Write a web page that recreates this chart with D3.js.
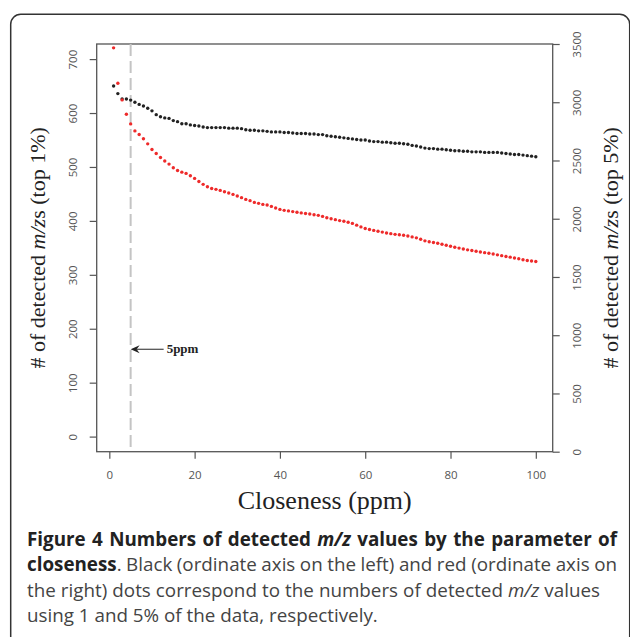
<!DOCTYPE html>
<html lang="en">
<head>
  <meta charset="UTF-8">
  <title>Figure 4 - detected m/z values by closeness</title>
  <style>
    body { margin: 0; background: #fff; }
    svg { display: block; }
    .tick text { font-family: 'Open Sans', sans-serif; font-size: 11.5px; fill: #555; }
    .tick line { stroke: #555; stroke-width: 1.2; }
    .serif { font-family: 'Liberation Serif', 'Times New Roman', serif; fill: #222; }
    .cap { font-family: 'Open Sans', sans-serif; font-size: 17px; fill: #444; }
  </style>
</head>
<body>
  <div id="chart"></div>
  <script src="https://d3js.org/d3.v7.min.js"></script>
  <script>
    // closeness (ppm), 1..100
    const closeness = [
      1,2,3,4,5,6,7,8,9,10,11,12,13,14,15,16,17,18,19,20,
      21,22,23,24,25,26,27,28,29,30,31,32,33,34,35,36,37,38,39,40,
      41,42,43,44,45,46,47,48,49,50,51,52,53,54,55,56,57,58,59,60,
      61,62,63,64,65,66,67,68,69,70,71,72,73,74,75,76,77,78,79,80,
      81,82,83,84,85,86,87,88,89,90,91,92,93,94,95,96,97,98,99,100
    ];
    // black dots, left axis (top 1%)
    const top1 = [
      650,636,626,626,624,620,616,613,609,604,597,593,591,590,586,584,580,580,578,577,
      576,574,573,573,573,573,573,572,572,572,571,569,568,568,567,567,566,565,565,565,
      564,564,563,562,562,562,561,561,560,560,558,557,556,555,554,553,552,551,550,550,
      548,547,547,546,546,545,544,544,543,542,540,539,537,535,534,534,533,533,532,531,
      530,530,529,529,528,528,528,527,527,527,527,526,525,524,523,523,522,521,520,519
    ];
    // red dots, right axis (top 5%)
    const top5 = [
      3467,3163,3020,2897,2814,2754,2723,2686,2643,2594,2560,2526,2495,2469,2437,2414,2400,2389,2369,2346,
      2320,2295,2275,2260,2252,2243,2232,2221,2209,2195,2181,2166,2155,2140,2132,2123,2118,2106,2092,2080,
      2072,2067,2061,2055,2050,2045,2040,2034,2029,2020,2008,2000,1992,1984,1978,1970,1960,1945,1930,1916,
      1908,1900,1893,1885,1878,1872,1866,1862,1858,1852,1844,1836,1824,1810,1803,1796,1790,1781,1772,1764,
      1755,1748,1740,1733,1727,1721,1715,1709,1703,1697,1690,1683,1676,1670,1663,1656,1648,1642,1637,1633
    ];
    const xTicks = [0, 20, 40, 60, 80, 100];
    const leftTicks = [0, 100, 200, 300, 400, 500, 600, 700];
    const rightTicks = [0, 500, 1000, 1500, 2000, 2500, 3000, 3500];
    const cutoff = 5;      // dashed line at 5 ppm
    const arrowAt = 162;   // arrow height on left axis

    const W = 630, H = 637;
    const L = 96.7, R = 552.7, T = 44, B = 451.7;

    const svg = d3.select('#chart').append('svg').attr('width', W).attr('height', H);

    // frame
    svg.append('rect')
      .attr('x', 10.7).attr('y', 14.3).attr('width', 619).attr('height', 632).attr('rx', 10)
      .attr('fill', 'none').attr('stroke', '#333').attr('stroke-width', 1.5);

    const x = d3.scaleLinear().domain([-2.96, 103.96]).range([L, R]);
    const yL = d3.scaleLinear().domain([-28, 728]).range([B, T]);
    const yR = d3.scaleLinear().domain([0, 3500]).range([B, T]);

    // axes
    const gx = svg.append('g').attr('transform', `translate(0,${B})`)
      .call(d3.axisBottom(x).tickValues(xTicks).tickSize(7).tickPadding(12.5));
    const gl = svg.append('g').attr('transform', `translate(${L},0)`)
      .call(d3.axisLeft(yL).tickValues(leftTicks).tickSize(7).tickFormat(d3.format('d')));
    const gr = svg.append('g').attr('transform', `translate(${R},0)`)
      .call(d3.axisRight(yR).tickValues(rightTicks).tickSize(7).tickFormat(d3.format('d')));
    [gx, gl, gr].forEach(g => g.select('.domain').remove());

    gl.selectAll('.tick text')
      .attr('transform', 'rotate(-90)').attr('text-anchor', 'middle')
      .attr('x', 0).attr('y', -24).attr('dy', '0.35em');
    gr.selectAll('.tick text')
      .attr('transform', 'rotate(-90)').attr('text-anchor', 'middle')
      .attr('x', 0).attr('y', 24.6).attr('dy', '0.35em');

    // box
    svg.append('rect')
      .attr('x', L).attr('y', T).attr('width', R - L).attr('height', B - T)
      .attr('fill', 'none').attr('stroke', '#555').attr('stroke-width', 1.3);

    // 5ppm dashed line
    svg.append('line')
      .attr('x1', x(cutoff)).attr('x2', x(cutoff)).attr('y1', T).attr('y2', B)
      .attr('stroke', '#c4c4c4').attr('stroke-width', 2).attr('stroke-dasharray', '12,5');

    // arrow + label
    const ay = yL(arrowAt), ax0 = x(cutoff);
    svg.append('line')
      .attr('x1', ax0 + 6).attr('x2', ax0 + 33).attr('y1', ay).attr('y2', ay)
      .attr('stroke', '#222').attr('stroke-width', 1);
    svg.append('path')
      .attr('d', `M${ax0},${ay} L${ax0 + 9},${ay - 4} L${ax0 + 6},${ay} L${ax0 + 9},${ay + 4} Z`)
      .attr('fill', '#222');
    svg.append('text').attr('class', 'serif')
      .attr('x', ax0 + 36).attr('y', ay + 4)
      .attr('font-size', 13).attr('font-weight', 'bold')
      .text('5ppm');

    // dots
    svg.append('g').selectAll('circle').data(closeness).join('circle')
      .attr('cx', d => x(d)).attr('cy', (d, i) => yL(top1[i]))
      .attr('r', 1.7).attr('fill', '#222');
    svg.append('g').selectAll('circle').data(closeness).join('circle')
      .attr('cx', d => x(d)).attr('cy', (d, i) => yR(top5[i]))
      .attr('r', 1.7).attr('fill', '#ee2a2a');

    // axis titles
    svg.append('text').attr('class', 'serif')
      .attr('x', (L + R) / 2).attr('y', 509)
      .attr('text-anchor', 'middle').attr('font-size', 26)
      .text('Closeness (ppm)');

    function yTitle(cx, pct) {
      const t = svg.append('text').attr('class', 'serif')
        .attr('transform', `translate(${cx},${(T + B) / 2}) rotate(-90)`)
        .attr('text-anchor', 'middle').attr('font-size', 22);
      t.append('tspan').text('# of detected ');
      t.append('tspan').attr('font-style', 'italic').text('m/z');
      t.append('tspan').text(`s (top ${pct}%)`);
    }
    yTitle(45, 1);
    yTitle(618, 5);

    // caption: justified lines, font sized so the last (ragged) line fits its width
    const capLines = [
      { w: 590, parts: [['Figure 4 Numbers of detected ', 'b'], ['m/z', 'bi'], [' values by the parameter of', 'b']] },
      { w: 590, parts: [['closeness', 'b'], ['. Black (ordinate axis on the left) and red (ordinate axis on', '']] },
      { w: 573, parts: [['the right) dots correspond to the numbers of detected ', ''], ['m/z', 'i'], [' values', '']] },
      { w: 351, parts: [['using 1 and 5% of the data, respectively.', '']] }
    ];
    const texts = capLines.map((ln, k) => {
      const t = svg.append('text').attr('class', 'cap').attr('x', 27).attr('y', 546 + k * 25.3);
      ln.parts.forEach(([s, st]) => {
        const sp = t.append('tspan').text(s);
        if (st.includes('b')) sp.attr('font-weight', 'bold').attr('fill', '#222');
        if (st.includes('i')) sp.attr('font-style', 'italic');
      });
      return t;
    });
    const fs = 17 * 351 / texts[3].node().getComputedTextLength();
    texts.forEach(t => t.style('font-size', fs + 'px'));
    texts.forEach((t, k) => {
      if (k === 3) return;
      const ln = capLines[k];
      const nat = t.node().getComputedTextLength();
      const spaces = ln.parts.map(p => p[0]).join('').split(' ').length - 1;
      t.attr('word-spacing', (ln.w - nat) / spaces);
    });
  </script>
</body>
</html>
